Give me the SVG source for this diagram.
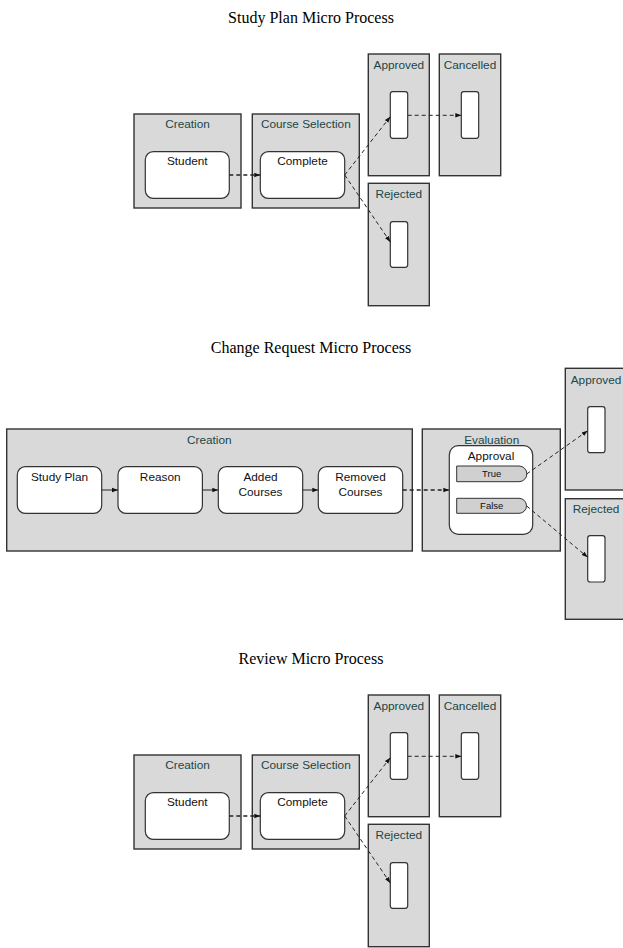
<svg xmlns="http://www.w3.org/2000/svg" width="623" height="948" viewBox="0 0 623 948">
<style>
.title{font-family:"Liberation Serif",serif;font-size:16px;fill:#000;text-anchor:middle}
.box{fill:#d9d9d9;stroke:#333;stroke-width:1.4}
.lbl{font-family:"Liberation Sans",sans-serif;font-size:11.8px;fill:#1a4646;text-anchor:middle}
.node{fill:#fff;stroke:#333;stroke-width:1.2}
.ntx{font-family:"Liberation Sans",sans-serif;font-size:11.8px;fill:#111;text-anchor:middle}
.pill{fill:#d0d0d0;stroke:#333;stroke-width:1}
.ptx{font-family:"Liberation Sans",sans-serif;font-size:9.5px;fill:#111;text-anchor:middle}
.d{fill:none;stroke:#222;stroke-width:1;stroke-dasharray:4 3}
.db{fill:none;stroke:#222;stroke-width:1.6;stroke-dasharray:4 3}
.s{fill:none;stroke:#222;stroke-width:1}
</style>
<defs>
<marker id="ah" viewBox="0 0 6 6" refX="6" refY="3" markerWidth="6" markerHeight="6" markerUnits="userSpaceOnUse" orient="auto">
<path d="M0,0.8 L6,3 L0,5.2 Z" fill="#111"/>
</marker>
</defs>

<text class="title" x="311" y="23">Study Plan Micro Process</text>
<g id="sp-creation"><rect class="box" x="134" y="114" width="107" height="94"/><text class="lbl" x="187.5" y="127.5">Creation</text></g>
<g id="sp-student"><rect class="node" x="145.3" y="151.7" width="84" height="46.6" rx="8"/><text class="ntx" x="187.3" y="164.5">Student</text></g>
<g id="sp-courseselection"><rect class="box" x="252.3" y="114" width="107" height="94"/><text class="lbl" x="305.8" y="127.5">Course Selection</text></g>
<g id="sp-complete"><rect class="node" x="260.3" y="151.7" width="84.4" height="46.6" rx="8"/><text class="ntx" x="302.5" y="164.5">Complete</text></g>
<g id="sp-approved"><rect class="box" x="368.3" y="54" width="61" height="121.7"/><text class="lbl" x="398.8" y="68.5">Approved</text><rect class="node" x="390.3" y="91.7" width="17.4" height="46.6" rx="2.5"/></g>
<g id="sp-cancelled"><rect class="box" x="439.3" y="54" width="61.4" height="121.7"/><text class="lbl" x="470" y="68.5">Cancelled</text><rect class="node" x="461.3" y="91.7" width="17.4" height="46.6" rx="2.5"/></g>
<g id="sp-rejected"><rect class="box" x="368.3" y="183.3" width="61" height="122.4"/><text class="lbl" x="398.8" y="197.5">Rejected</text><rect class="node" x="390.3" y="221.7" width="17.4" height="45.6" rx="2.5"/></g>
<g id="sp-connectors">
<line class="db" x1="229.3" y1="175" x2="260.3" y2="175" marker-end="url(#ah)"/>
<line class="d" x1="344.7" y1="175" x2="390.3" y2="116.7" marker-end="url(#ah)"/>
<line class="d" x1="344.7" y1="175" x2="390.3" y2="242" marker-end="url(#ah)"/>
<line class="d" x1="407.7" y1="115.3" x2="461.3" y2="115.3" marker-end="url(#ah)"/>
</g>

<text class="title" x="311" y="353">Change Request Micro Process</text>
<g id="cr-creation"><rect class="box" x="6.7" y="429" width="405.6" height="122"/><text class="lbl" x="209.3" y="443.5">Creation</text></g>
<g id="cr-studyplan"><rect class="node" x="17.3" y="466.7" width="84.4" height="46.6" rx="8"/><text class="ntx" x="59.5" y="480.5">Study Plan</text></g>
<g id="cr-reason"><rect class="node" x="118" y="466.7" width="84.4" height="46.6" rx="8"/><text class="ntx" x="160.2" y="480.5">Reason</text></g>
<g id="cr-added"><rect class="node" x="218.3" y="466.7" width="84.4" height="46.6" rx="8"/><text class="ntx" x="260.5" y="480.5">Added</text><text class="ntx" x="260.5" y="496">Courses</text></g>
<g id="cr-removed"><rect class="node" x="318.3" y="466.7" width="84.4" height="46.6" rx="8"/><text class="ntx" x="360.5" y="480.5">Removed</text><text class="ntx" x="360.5" y="496">Courses</text></g>
<g id="cr-evaluation"><rect class="box" x="422.3" y="429" width="138" height="122"/><text class="lbl" x="491.7" y="443.5">Evaluation</text></g>
<g id="cr-approval"><rect class="node" x="449.3" y="445.7" width="83.4" height="88.6" rx="9"/><text class="ntx" x="491" y="459.5">Approval</text>
<path class="pill" d="M456.7,466 H519 A7.85,7.85 0 0 1 519,481.7 H456.7 Z"/><text class="ptx" x="491.7" y="477.2">True</text>
<path class="pill" d="M456.7,498.3 H519 A7.5,7.5 0 0 1 519,513.3 H456.7 Z"/><text class="ptx" x="491.7" y="509.2">False</text></g>
<g id="cr-approved"><rect class="box" x="565.3" y="368.3" width="62" height="121.7"/><text class="lbl" x="596" y="383.5">Approved</text><rect class="node" x="587.7" y="406.7" width="17.3" height="46" rx="2.5"/></g>
<g id="cr-rejected"><rect class="box" x="565.3" y="498.7" width="62" height="120.6"/><text class="lbl" x="596" y="512.5">Rejected</text><rect class="node" x="587.7" y="535.7" width="17.3" height="46.3" rx="2.5"/></g>
<g id="cr-connectors">
<line class="s" x1="101.7" y1="490" x2="118" y2="490" marker-end="url(#ah)"/>
<line class="s" x1="202.4" y1="490" x2="218.3" y2="490" marker-end="url(#ah)"/>
<line class="s" x1="302.7" y1="490" x2="318.3" y2="490" marker-end="url(#ah)"/>
<line class="db" x1="402.7" y1="490" x2="449.3" y2="490" marker-end="url(#ah)"/>
<line class="d" x1="526.7" y1="474" x2="587.7" y2="430.7" marker-end="url(#ah)"/>
<line class="d" x1="526.7" y1="506" x2="587.7" y2="557.3" marker-end="url(#ah)"/>
</g>

<text class="title" x="311" y="664">Review Micro Process</text>
<g transform="translate(0,641)">
<g id="rv-creation"><rect class="box" x="134" y="114" width="107" height="94"/><text class="lbl" x="187.5" y="127.5">Creation</text></g>
<g id="rv-student"><rect class="node" x="145.3" y="151.7" width="84" height="46.6" rx="8"/><text class="ntx" x="187.3" y="164.5">Student</text></g>
<g id="rv-courseselection"><rect class="box" x="252.3" y="114" width="107" height="94"/><text class="lbl" x="305.8" y="127.5">Course Selection</text></g>
<g id="rv-complete"><rect class="node" x="260.3" y="151.7" width="84.4" height="46.6" rx="8"/><text class="ntx" x="302.5" y="164.5">Complete</text></g>
<g id="rv-approved"><rect class="box" x="368.3" y="54" width="61" height="121.7"/><text class="lbl" x="398.8" y="68.5">Approved</text><rect class="node" x="390.3" y="91.7" width="17.4" height="46.6" rx="2.5"/></g>
<g id="rv-cancelled"><rect class="box" x="439.3" y="54" width="61.4" height="121.7"/><text class="lbl" x="470" y="68.5">Cancelled</text><rect class="node" x="461.3" y="91.7" width="17.4" height="46.6" rx="2.5"/></g>
<g id="rv-rejected"><rect class="box" x="368.3" y="183.3" width="61" height="122.4"/><text class="lbl" x="398.8" y="197.5">Rejected</text><rect class="node" x="390.3" y="221.7" width="17.4" height="45.6" rx="2.5"/></g>
<g id="rv-connectors">
<line class="db" x1="229.3" y1="175" x2="260.3" y2="175" marker-end="url(#ah)"/>
<line class="d" x1="344.7" y1="175" x2="390.3" y2="116.7" marker-end="url(#ah)"/>
<line class="d" x1="344.7" y1="175" x2="390.3" y2="242" marker-end="url(#ah)"/>
<line class="d" x1="407.7" y1="115.3" x2="461.3" y2="115.3" marker-end="url(#ah)"/>
</g>
</g>
</svg>
